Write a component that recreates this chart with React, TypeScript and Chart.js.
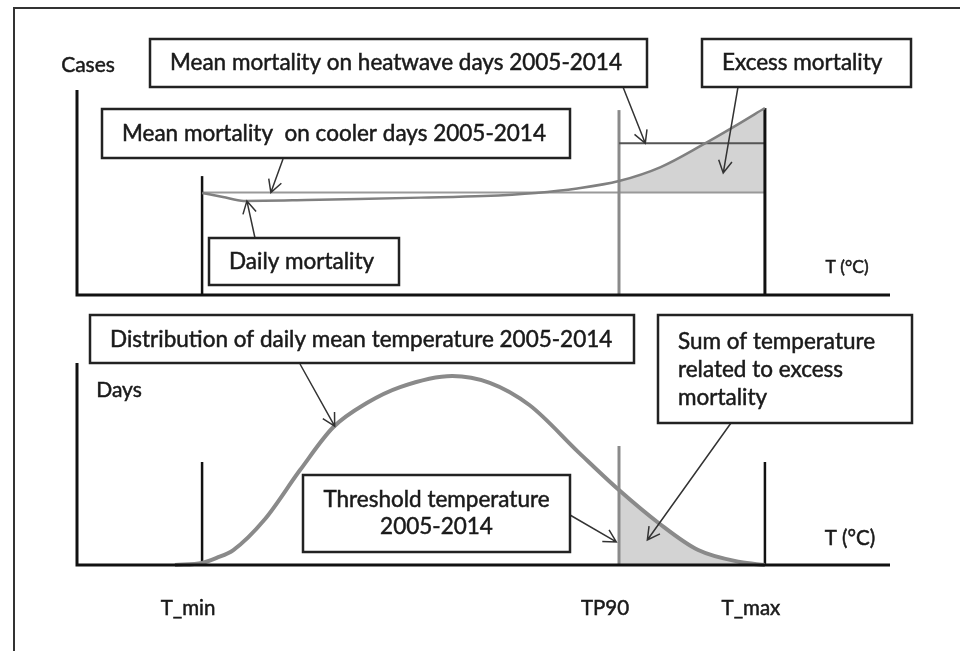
import React, { useEffect, useRef } from "react";
import { Chart, registerables } from "chart.js";
Chart.register(...registerables);

// ---- data (schematic, temperature in arbitrary °C units) ----
const T_MIN = 5;
const TP90 = 25;
const T_MAX = 32;
const X_MIN = -1;
const X_MAX = 38;

const mortalityTemps = [5, 6, 7, 10, 12.5, 15.5, 18.5, 21, 23, 25, 27, 29, 30.5, 32];
const dailyMortality = [49.8, 47.8, 45.9, 46.3, 46.8, 47.5, 48.3, 49.8, 52, 55.6, 62.4, 73.2, 82, 91.2];
const meanCoolerMortality = 50;
const meanHeatwaveMortality = 74;
const mortalityLineTops = [58, 90.2, 91.2]; // T_min, TP90, T_max marker heights

const distTemps = [3.7, 5, 5.7, 6.5, 8, 9.7, 11.3, 12.9, 14.5, 17, 18.8, 20.7, 23.1, 25, 26.9, 28.8, 30.8, 32];
const distDays = [0, 1, 3.5, 7.4, 22.5, 47, 68.3, 80.2, 88.1, 93.6, 90.2, 79.2, 55.4, 37.1, 20.8, 7.4, 1.5, 0];
const distLineTops = [51, 58.9, 51];

const tickValues = [T_MIN, TP90, T_MAX];
const tickLabels = ["T_min", "TP90", "T_max"];

// ---- layout ----
const W = 960;
const TOP_H = 305;
const BOT_H = 346;
const FONT = "Lato, 'Open Sans', sans-serif";
const TEXT_COLOR = "#1a1a1a";

type Box = { x: number; y: number; w: number; h: number; lines: string[]; align: "left" | "center"; lineYs: number[]; };
type Arrow = { from: [number, number]; to: [number, number] }; // from: page px, to: data coords

const topBoxes: Box[] = [
  { x: 150, y: 39, w: 497, h: 48, lines: ["Mean mortality on heatwave days 2005-2014"], align: "left", lineYs: [63] },
  { x: 702, y: 39, w: 209, h: 48, lines: ["Excess mortality"], align: "left", lineYs: [63] },
  { x: 102, y: 109, w: 468, h: 49, lines: ["Mean mortality  on cooler days 2005-2014"], align: "left", lineYs: [134] },
  { x: 209, y: 238, w: 190, h: 47, lines: ["Daily mortality"], align: "left", lineYs: [262] },
];
const topArrows: Arrow[] = [
  { from: [283, 159], to: [8.3, meanCoolerMortality] },
  { from: [255, 238], to: [7.15, 45.9] },
  { from: [623, 87], to: [26.26, meanHeatwaveMortality] },
  { from: [738, 87], to: [30.0, 59.5] },
];
const botBoxes: Box[] = [
  { x: 90, y: 315, w: 544, h: 48, lines: ["Distribution of daily mean temperature 2005-2014"], align: "left", lineYs: [340] },
  { x: 658, y: 315, w: 254, h: 108, lines: ["Sum of temperature", "related to excess", "mortality"], align: "left", lineYs: [342, 370, 398] },
  { x: 303, y: 475, w: 267, h: 77, lines: ["Threshold temperature", "2005-2014"], align: "center", lineYs: [500, 527] },
];
const botArrows: Arrow[] = [
  { from: [300, 364], to: [11.36, 68.8] },
  { from: [731, 423], to: [26.36, 12.4] },
  { from: [570, 515], to: [24.87, 11.4] },
];

function drawArrow(ctx: CanvasRenderingContext2D, x1: number, y1: number, x2: number, y2: number) {
  ctx.save();
  ctx.strokeStyle = "#333";
  ctx.lineWidth = 1.5;
  ctx.beginPath();
  ctx.moveTo(x1, y1);
  ctx.lineTo(x2, y2);
  const a = Math.atan2(y2 - y1, x2 - x1);
  const len = 14;
  const s = 0.5;
  ctx.moveTo(x2 - len * Math.cos(a - s), y2 - len * Math.sin(a - s));
  ctx.lineTo(x2, y2);
  ctx.lineTo(x2 - len * Math.cos(a + s), y2 - len * Math.sin(a + s));
  ctx.stroke();
  ctx.restore();
}

function fillStrokeText(ctx: CanvasRenderingContext2D, s: string, x: number, y: number) {
  ctx.fillText(s, x, y);
  ctx.strokeText(s, x, y);
}

function drawBox(ctx: CanvasRenderingContext2D, b: Box, offY: number) {
  ctx.save();
  ctx.fillStyle = "#fff";
  ctx.fillRect(b.x, b.y - offY, b.w, b.h);
  ctx.strokeStyle = "#222";
  ctx.lineWidth = 2.5;
  ctx.strokeRect(b.x, b.y - offY, b.w, b.h);
  ctx.fillStyle = TEXT_COLOR;
  ctx.strokeStyle = TEXT_COLOR;
  ctx.lineWidth = 0.5;
  ctx.font = `22.5px ${FONT}`;
  ctx.textBaseline = "middle";
  b.lines.forEach((ln, i) => {
    if (b.align === "center") {
      ctx.textAlign = "center";
      fillStrokeText(ctx, ln, b.x + b.w / 2, b.lineYs[i] - offY);
    } else {
      ctx.textAlign = "left";
      fillStrokeText(ctx, ln, b.x + 20, b.lineYs[i] - offY);
    }
  });
  ctx.restore();
}

function text(ctx: CanvasRenderingContext2D, s: string, x: number, y: number, size: number) {
  ctx.save();
  ctx.fillStyle = TEXT_COLOR;
  ctx.strokeStyle = TEXT_COLOR;
  ctx.lineWidth = 0.5;
  ctx.font = `${size}px ${FONT}`;
  ctx.textAlign = "center";
  ctx.textBaseline = "middle";
  fillStrokeText(ctx, s, x, y);
  ctx.restore();
}

function makePlugin(kind: "top" | "bot") {
  return {
    id: "schematic-" + kind,
    afterDraw(chart: any) {
      const ctx: CanvasRenderingContext2D = chart.ctx;
      const { left, right, top, bottom } = chart.chartArea;
      const xs = chart.scales.x;
      const ys = chart.scales.y;
      const offY = kind === "top" ? 0 : TOP_H;
      // axes
      ctx.save();
      ctx.strokeStyle = "#111";
      ctx.lineWidth = 3;
      ctx.beginPath();
      ctx.moveTo(left, top);
      ctx.lineTo(left, bottom);
      ctx.lineTo(right, bottom);
      ctx.stroke();
      ctx.restore();
      const boxes = kind === "top" ? topBoxes : botBoxes;
      const arrows = kind === "top" ? topArrows : botArrows;
      arrows.forEach((a) => {
        drawArrow(ctx, a.from[0], a.from[1] - offY, xs.getPixelForValue(a.to[0]), ys.getPixelForValue(a.to[1]));
      });
      boxes.forEach((b) => drawBox(ctx, b, offY));
      if (kind === "top") {
        text(ctx, "Cases", 88, 65, 21);
        text(ctx, "T (°C)", 847, 267, 17.5);
      } else {
        text(ctx, "Days", 119, 390 - offY, 21);
        text(ctx, "T (°C)", 850, 538 - offY, 20.5);
        tickValues.forEach((v, i) => {
          text(ctx, tickLabels[i], xs.getPixelForValue(v) - 14, 608 - offY, 20.5);
        });
      }
    },
  };
}

const pts = (xs: number[], ys: number[]) => xs.map((x, i) => ({ x, y: ys[i] }));
const vline = (x: number, top: number) => [{ x, y: 0 }, { x, y: top }];

function baseOptions(padTop: number, padBottom: number): any {
  return {
    animation: false,
    responsive: false,
    maintainAspectRatio: false,
    events: [],
    layout: { padding: { left: 77, right: 70, top: padTop, bottom: padBottom } },
    scales: {
      x: { type: "linear", min: X_MIN, max: X_MAX, display: false },
      y: { type: "linear", min: 0, max: 100, display: false },
    },
    plugins: { legend: { display: false }, tooltip: { enabled: false } },
    elements: { point: { radius: 0 } },
  };
}

export default function App() {
  const topRef = useRef<HTMLCanvasElement>(null);
  const botRef = useRef<HTMLCanvasElement>(null);

  useEffect(() => {
    const excessIdx = mortalityTemps.map((t, i) => i).filter((i) => mortalityTemps[i] >= TP90);
    const topChart = new Chart(topRef.current!, {
      type: "line",
      data: {
        datasets: [
          { data: pts(mortalityTemps, dailyMortality), borderColor: "#808080", borderWidth: 2.5, cubicInterpolationMode: "monotone", fill: false, clip: false } as any,
          { data: vline(T_MIN, mortalityLineTops[0]), borderColor: "#111", borderWidth: 2.5, fill: false, clip: false },
          { data: vline(T_MAX, mortalityLineTops[2]), borderColor: "#111", borderWidth: 3, fill: false, clip: false },
          { data: [{ x: TP90, y: meanHeatwaveMortality }, { x: T_MAX, y: meanHeatwaveMortality }], borderColor: "#555", borderWidth: 2, fill: false, clip: false },
          { data: vline(TP90, mortalityLineTops[1]), borderColor: "#8a8a8a", borderWidth: 3, fill: false, clip: false },
          { data: [{ x: T_MIN, y: meanCoolerMortality }, { x: T_MAX, y: meanCoolerMortality }], borderColor: "#999", borderWidth: 2, fill: false, clip: false },
          { data: excessIdx.map((i) => ({ x: mortalityTemps[i], y: dailyMortality[i] })), borderWidth: 0, borderColor: "rgba(0,0,0,0)", backgroundColor: "#d3d3d3", cubicInterpolationMode: "monotone", fill: { value: meanCoolerMortality }, clip: false } as any,
        ],
      },
      options: baseOptions(90, 10),
      plugins: [makePlugin("top")],
    });

    const sumIdx = distTemps.map((t, i) => i).filter((i) => distTemps[i] >= TP90);
    const botChart = new Chart(botRef.current!, {
      type: "line",
      data: {
        datasets: [
          { data: pts(distTemps, distDays), borderColor: "#8a8a8a", borderWidth: 4, cubicInterpolationMode: "monotone", fill: false, clip: false } as any,
          { data: vline(T_MIN, distLineTops[0]), borderColor: "#111", borderWidth: 2.5, fill: false, clip: false },
          { data: vline(T_MAX, distLineTops[2]), borderColor: "#111", borderWidth: 2.5, fill: false, clip: false },
          { data: vline(TP90, distLineTops[1]), borderColor: "#8a8a8a", borderWidth: 3, fill: false, clip: false },
          { data: sumIdx.map((i) => ({ x: distTemps[i], y: distDays[i] })), borderWidth: 0, borderColor: "rgba(0,0,0,0)", backgroundColor: "#d3d3d3", cubicInterpolationMode: "monotone", fill: "origin", clip: false } as any,
        ],
      },
      options: baseOptions(58, 86),
      plugins: [makePlugin("bot")],
    });

    return () => {
      topChart.destroy();
      botChart.destroy();
    };
  }, []);

  return (
    <div style={{ position: "absolute", left: 0, top: 0, width: W, height: TOP_H + BOT_H, overflow: "hidden", background: "#fff" }}>
      <div style={{ position: "absolute", left: 13, top: 7, width: 1000, height: 700, borderLeft: "2px solid #333", borderTop: "2px solid #333" }} />
      <canvas ref={topRef} width={W} height={TOP_H} style={{ position: "absolute", left: 0, top: 0, width: W, height: TOP_H }} />
      <canvas ref={botRef} width={W} height={BOT_H} style={{ position: "absolute", left: 0, top: TOP_H, width: W, height: BOT_H }} />
    </div>
  );
}
